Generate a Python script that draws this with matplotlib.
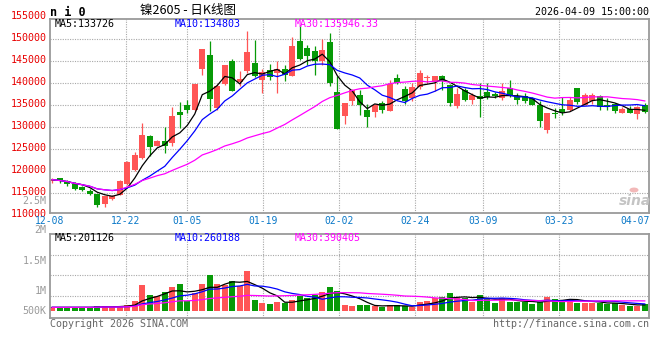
import numpy as np
import pandas as pd
import matplotlib
matplotlib.use('Agg')
import matplotlib.pyplot as plt
from matplotlib.transforms import blended_transform_factory

plt.rcParams['font.family'] = ['DejaVu Sans Mono']

# ---- data ----
tick_labels = ['12-08', '12-22', '01-05', '01-19', '02-02', '02-24', '03-09', '03-23', '04-07']
tick_index = [0, 10, 18, 28, 38, 48, 57, 67, 77]

opens = [117750, 118430, 117820, 117135, 116380, 115540, 114780, 112580, 113720, 114630,
         117135, 120323, 122980, 127913, 125788, 126926, 126395, 133454, 134972, 133985,
         143245, 146509, 134365, 139905, 144991, 140285, 142714, 144611, 140816, 142941,
         142334, 143245, 141727, 149545, 148027, 147419, 145142, 149393, 138008, 132620,
         136034, 137401, 133985, 133454, 135503, 133757, 141196, 138691, 136642, 139146,
         141196, 140285, 141575, 139678, 134744, 138539, 136262, 137021, 138008, 137552,
         136642, 138919, 137021, 137021, 136642, 134972, 129431, 133226, 134213, 133985,
         138919, 134972, 136034, 137021, 134972, 135275, 133226, 134213, 132998, 134972]
closes = [118050, 117670, 117135, 116000, 115620, 114860, 112350, 114250, 114250, 117820,
          121993, 123739, 128293, 125484, 126926, 125788, 132467, 132847, 133985, 139905,
          147799, 136490, 139298, 144232, 138311, 140968, 147040, 141575, 142562, 141347,
          143245, 141955, 148558, 145598, 146281, 145142, 147495, 140057, 129659, 135503,
          138539, 135124, 132315, 134972, 133985, 139905, 140057, 136034, 139146, 142334,
          141347, 141575, 140437, 135503, 137552, 136262, 137249, 136490, 136869, 137173,
          138160, 137249, 136262, 135883, 134972, 131480, 133226, 133074, 133454, 136262,
          135731, 137401, 137401, 134516, 134516, 133757, 134213, 133226, 134516, 133454]
highs = [118500, 118500, 117900, 117520, 116530, 116000, 114860, 114400, 114480, 117900,
         122221, 124346, 130949, 128293, 127154, 130038, 134516, 135731, 136262, 139905,
         147799, 149696, 139829, 144232, 145598, 142714, 151822, 149924, 143321, 144459,
         144991, 144232, 150531, 152960, 148786, 148406, 150152, 151442, 141575, 135503,
         138691, 138539, 135351, 135351, 135883, 140816, 142106, 139298, 140057, 143093,
         141955, 141575, 141955, 139800, 138919, 138919, 137780, 140057, 140057, 138008,
         140057, 140664, 137780, 137780, 136793, 135883, 133226, 134365, 136793, 136793,
         138919, 137780, 137780, 137401, 136642, 135503, 134516, 134744, 134744, 135503]
lows = [117300, 117290, 116530, 115770, 115390, 114630, 111900, 111900, 113490, 114480,
        116900, 120095, 122828, 123359, 125636, 124118, 125788, 129810, 133226, 133606,
        141955, 133757, 133985, 139678, 138160, 139298, 142334, 141347, 137780, 140816,
        137780, 140588, 141575, 145370, 144232, 141955, 144232, 139298, 129659, 130721,
        134972, 132847, 130038, 132315, 133226, 133606, 139829, 135275, 135883, 138767,
        140057, 138160, 138539, 134744, 134365, 135883, 135275, 132315, 136490, 136642,
        136262, 136869, 135275, 135503, 134972, 129962, 128672, 132088, 132695, 133606,
        135275, 134972, 135275, 133985, 133985, 133226, 133226, 133226, 131936, 133226]
volumes = [117000, 117000, 117000, 117000, 117000, 117000, 163000, 163000, 117000, 163000,
           198000, 338000, 898000, 548000, 513000, 665000, 828000, 933000, 350000, 630000,
           933000, 1248000, 933000, 898000, 1038000, 863000, 1388000, 373000, 280000, 233000,
           315000, 280000, 373000, 513000, 432000, 548000, 665000, 840000, 700000, 198000,
           163000, 198000, 198000, 163000, 117000, 198000, 198000, 163000, 117000, 315000,
           350000, 432000, 490000, 630000, 432000, 432000, 315000, 548000, 432000, 280000,
           432000, 315000, 315000, 315000, 233000, 315000, 478000, 408000, 373000, 408000,
           280000, 280000, 280000, 280000, 233000, 257000, 198000, 163000, 163000, 233000]

price_labels = [155000, 150000, 145000, 140000, 135000, 130000, 125000, 120000, 115000, 110000]
vol_labels = ['2.5M', '2M', '1.5M', '1M', '500K']

df = pd.DataFrame({'open': opens, 'high': highs, 'low': lows, 'close': closes, 'vol': volumes})
x = np.arange(len(df))
up = df['close'] >= df['open']
RED, GREEN = '#ff5555', '#079a07'
colors = np.where(up, RED, GREEN)

W, H = 660, 360
fig = plt.figure(figsize=(6.6, 3.6), dpi=100)
ax = fig.add_axes([50 / W, 1 - 213.3 / H, 599.3 / W, 194.3 / H])
axv = fig.add_axes([50 / W, 1 - 318.3 / H, 599.3 / W, 84 / H])

grid_x = [i * 80 / 79 - 0.3 for i in tick_index[1:-1]]
grid_kw = dict(color='#a8a8a8', lw=0.8, ls=(0, (1, 1.2)))

# candles
ax.vlines(x, df['low'], df['high'], colors=colors, lw=0.9)
body = np.maximum((df['close'] - df['open']).abs(), 180)
ax.bar(x, body, bottom=np.minimum(df['open'], df['close']), width=0.8, color=colors, lw=0)

# moving averages
for n, c in [(5, 'black'), (10, '#0000ff'), (30, '#ff00ff')]:
    ax.plot(x, df['close'].rolling(n, min_periods=1).mean(), color=c, lw=0.9)
    axv.plot(x, df['vol'].rolling(n, min_periods=1).mean(), color=c, lw=0.9)

axv.bar(x, df['vol'], width=0.8, color=colors, lw=0)

ax.set_xlim(-0.3, 79.6)
ax.set_ylim(110390, 154630)
axv.set_xlim(-0.3, 79.6)
axv.set_ylim(-266000, 2674000)

for a in (ax, axv):
    a.set_xticks([])
    a.set_yticks([])
    for s in a.spines.values():
        s.set_color('#9a9a9a')
        s.set_linewidth(1.3)
    for gx in grid_x:
        a.axvline(gx, **grid_kw, zorder=0)
for p in price_labels[1:-1]:
    ax.axhline(p, **grid_kw, zorder=0)
for v in [525000, 1250000, 1950000]:
    axv.axhline(v, **grid_kw, zorder=0)

# price labels
ty = blended_transform_factory(ax.transAxes, ax.transData)
for p in price_labels:
    ax.text(-0.006, p + 300, str(p), transform=ty, ha='right', va='center',
            color='#e80000', fontsize=7.2, clip_on=False)

# date labels
tx = blended_transform_factory(ax.transData, ax.transAxes)
for lab, i in zip(tick_labels, tick_index):
    if i == tick_index[0]:
        ax.text(-0.3, -0.04, lab, transform=tx, ha='center', va='center', color='#0a78c8', fontsize=7)
    elif i == tick_index[-1]:
        ax.text(79.6, -0.04, lab, transform=tx, ha='right', va='center', color='#0a78c8', fontsize=7)
    else:
        ax.text(i * 80 / 79 - 0.3, -0.04, lab, transform=tx, ha='center', va='center',
                color='#0a78c8', fontsize=7)

# volume labels (placed as on the original chart)
for lab, yp in zip(vol_labels, [200.7, 230.5, 260.7, 290.7, 310.7]):
    fig.text(46.5 / W, 1 - yp / H, lab, ha='right', va='center', color='#9a9a9a', fontsize=7.2)

# MA legends
for lab, xp, c in [('MA5:133726', 55, 'black'), ('MA10:134803', 175, '#0000ff'),
                   ('MA30:135946.33', 295, '#ff00ff')]:
    fig.text(xp / W, 1 - 24 / H, lab, ha='left', va='center', color=c, fontsize=7.2)
for lab, xp, c in [('MA5:201126', 55, 'black'), ('MA10:260188', 175, '#0000ff'),
                   ('MA30:390405', 295, '#ff00ff')]:
    fig.text(xp / W, 1 - 238.3 / H, lab, ha='left', va='center', color=c, fontsize=7.2)

# titles
fig.text(50 / W, 1 - 12.2 / H, 'n i 0', ha='left', va='center', fontsize=8.5, fontweight='bold')
fig.text(140 / W, 1 - 10.5 / H, '镍2605 - 日K线图', ha='left', va='center', fontsize=9,
         family=['Noto Sans CJK SC', 'DejaVu Sans'])
fig.text(649.3 / W, 1 - 11.7 / H, '2026-04-09 15:00:00', ha='right', va='center', fontsize=7.2)

# footer
fig.text(50 / W, 1 - 323.7 / H, 'Copyright 2026 SINA.COM', ha='left', va='center',
         color='#666666', fontsize=7.2)
fig.text(649.3 / W, 1 - 323.7 / H, 'http://finance.sina.com.cn', ha='right', va='center',
         color='#666666', fontsize=7.2)

# sina watermark
fig.text(635 / W, 1 - 201 / H, 'sina', ha='center', va='center', color='#c4c4c4',
         fontsize=10, fontweight='bold', style='italic', family='DejaVu Sans')
fig.patches.append(plt.Circle((634 / W, 1 - 190 / H), 4.5 / W, transform=fig.transFigure,
                              color='#f2b8b8', lw=0))

fig.savefig('out.png', dpi=100)
